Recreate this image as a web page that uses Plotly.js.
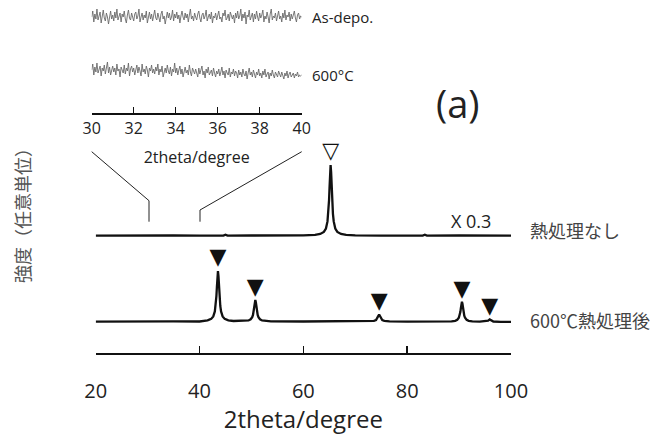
<!DOCTYPE html>
<html>
<head>
<meta charset="utf-8">
<script src="https://cdn.plot.ly/plotly-3.0.1.min.js"></script>
<style>html,body{margin:0;padding:0;background:#fff;}#chart{width:667px;height:435px;}</style>
</head>
<body>
<div id="chart"></div>
<script>
// ---- Data (arbitrary intensity units) ----
const mainTicks = [20, 40, 60, 80, 100];
const insetTicks = [30, 32, 34, 36, 38, 40];

// 熱処理なし (x 0.3)
const noHeatX = [20, 25, 30, 35, 40, 44.6, 45, 45.4, 50, 55, 60,
  62.25, 63.25, 63.95, 64.35, 64.65, 64.8, 64.95, 65.05, 65.15, 65.25,
  65.35, 65.45, 65.55, 65.7, 65.85, 66.15, 66.55, 67.25, 68.25,
  70, 75, 80, 83, 83.4, 83.8, 90, 95, 100];
const noHeatY = [117.3, 117.6, 117.2, 117.5, 117.3, 117.4, 118.3, 117.4, 117.5, 117.3, 117.6,
  118.2, 119.0, 121.1, 124.5, 131.6, 139.2, 152.8, 166.3, 181, 188,
  181, 166.3, 152.8, 139.2, 131.6, 124.5, 121.1, 119, 118.2,
  117.6, 117.4, 117.3, 117.4, 118.2, 117.4, 117.5, 117.3, 117.4];

// 600℃熱処理後
const heatX = [20, 25, 30, 35, 40, 41.55, 42.25, 42.65, 42.95, 43.1,
  43.25, 43.35, 43.45, 43.55, 43.65, 43.75, 43.85, 44.0, 44.15, 44.45,
  44.85, 45.55, 46.55, 48.75, 49.45, 49.85, 50.15, 50.3, 50.45, 50.55,
  50.65, 50.75, 50.85, 50.95, 51.05, 51.2, 51.35, 51.65, 52.05, 52.75,
  53.75, 60, 65, 70, 72.6, 73.6, 74.0, 74.3, 74.45, 74.6,
  74.75, 74.9, 75.2, 75.6, 76.6, 80, 85, 88.55, 89.25, 89.65,
  89.95, 90.1, 90.25, 90.35, 90.45, 90.55, 90.65, 90.75, 90.85, 91.0,
  91.15, 91.45, 91.85, 92.55, 94, 95.2, 95.6, 95.9, 96.2, 96.6,
  98, 100];
const heatY = [31.3, 31.6, 31.4, 31.6, 31.5, 32.6, 34.1, 36.6, 41.6, 47,
  56.8, 66.4, 77, 82, 77, 66.4, 56.8, 47, 41.6, 36.6,
  34.1, 32.6, 32, 32, 32.6, 33.7, 35.8, 38.1, 42.3, 46.4,
  50.9, 53, 50.9, 46.4, 42.3, 38.1, 35.8, 33.7, 32.6, 32,
  31.7, 31.5, 31.6, 31.4, 31.7, 32.1, 32.9, 35, 37.1, 38.5,
  37.1, 35, 32.9, 32.1, 31.7, 31.4, 31.3, 31.6, 32.2, 33.2,
  35.2, 37.4, 41.2, 45.0, 49.2, 51.2, 49.2, 45.0, 41.2, 37.4,
  35.2, 33.2, 32.2, 31.6, 31.3, 31.5, 32.3, 33.6, 32.3, 31.5,
  31.2, 31.2];

// peak markers
const openPeakX = [65.25];
const openPeakY = [201];
const filledPeakX = [43.55, 50.75, 74.6, 90.55, 95.9];
const filledPeakY = [95, 65, 51, 63, 46];

// inset scans 30–40°, step 0.05°
const insetStart = 30;
const insetStep = 0.05;
const asDepoY = [
  96, 102, 91, 99, 94, 104, 93, 98, 101, 90, 97, 103, 95, 92, 100, 96, 89, 99, 102, 94,
  98, 92, 101, 95, 104, 93, 97, 100, 91, 99, 96, 102, 94, 90, 98, 103, 95, 93, 100, 97,
  92, 99, 101, 94, 97, 104, 91, 96, 100, 93, 98, 95, 102, 90, 97, 101, 94, 99, 92, 98,
  103, 95, 93, 100, 96, 91, 99, 102, 94, 97, 89, 98, 101, 95, 100, 93, 96, 103, 92, 99,
  95, 101, 94, 98, 90, 97, 102, 96, 93, 100, 95, 99, 91, 98, 104, 94, 97, 92, 100, 96,
  93, 99, 102, 95, 91, 98, 100, 94, 97, 103, 92, 96, 99, 94, 101, 90, 97, 95, 100, 93,
  98, 102, 94, 96, 91, 100, 97, 103, 93, 95, 99, 92, 101, 96, 94, 98, 90, 100, 95, 102,
  94, 97, 104, 92, 99, 95, 101, 89, 98, 96, 103, 93, 97, 100, 91, 99, 94, 102, 96, 92,
  100, 95, 98, 103, 91, 97, 94, 101, 96, 90, 99, 104, 93, 97, 95, 100, 92, 98, 102, 94,
  97, 91, 100, 95, 103, 93, 98, 96, 101, 92, 99, 94, 97, 102, 95, 91, 98, 100, 94, 97,
  96];
const c600Y = [
  43, 49, 38, 46, 41, 50, 40, 44, 47, 37, 45, 42, 48, 39, 44, 51, 40, 46, 38, 43,
  47, 41, 45, 38, 49, 42, 44, 36, 46, 43, 40, 48, 39, 45, 42, 50, 37, 44, 47, 41,
  45, 38, 43, 48, 40, 46, 42, 37, 49, 41, 44, 39, 47, 43, 36, 45, 42, 48, 40, 44,
  39, 46, 42, 49, 38, 44, 41, 47, 36, 43, 45, 40, 48, 42, 39, 46, 37, 44, 41, 50,
  40, 45, 38, 43, 47, 39, 44, 36, 42, 46, 40, 43, 38, 48, 41, 37, 45, 42, 39, 44,
  41, 36, 45, 39, 43, 47, 38, 42, 35, 44, 40, 46, 38, 41, 43, 37, 45, 40, 36, 42,
  39, 44, 37, 41, 46, 38, 42, 35, 43, 40, 38, 45, 36, 41, 39, 44, 37, 42, 40, 35,
  43, 38, 41, 36, 44, 39, 37, 42, 34, 40, 45, 38, 41, 36, 43, 39, 35, 41, 38, 44,
  37, 40, 35, 42, 38, 44, 36, 39, 41, 34, 40, 37, 43, 38, 35, 41, 39, 36, 42, 38,
  36, 41, 38, 34, 40, 37, 42, 35, 39, 41, 36, 38, 40, 35, 39, 37, 41, 36, 38, 37,
  38];

// ---- Layout helpers (pixel -> paper) ----
const W = 667, H = 435;
const px = v => v / W;
const py = v => 1 - v / H;
const INK = '#111';
const FONT = 'Open Sans, Liberation Sans, sans-serif';
const JP = 'Noto Sans CJK JP, sans-serif';

const traces = [
  {x: noHeatX, y: noHeatY, xaxis: 'x', yaxis: 'y', mode: 'lines',
   line: {color: INK, width: 2.3}, hoverinfo: 'skip'},
  {x: heatX, y: heatY, xaxis: 'x', yaxis: 'y', mode: 'lines',
   line: {color: INK, width: 2.3}, hoverinfo: 'skip'},
  {x: openPeakX, y: openPeakY, xaxis: 'x', yaxis: 'y', mode: 'text', text: ['▽'],
   textposition: 'middle center', textfont: {family: 'DejaVu Sans', size: 22, color: INK},
   cliponaxis: false, hoverinfo: 'skip'},
  {x: filledPeakX, y: filledPeakY, xaxis: 'x', yaxis: 'y', mode: 'text',
   text: filledPeakX.map(() => '▼'),
   textposition: 'middle center', textfont: {family: 'DejaVu Sans', size: 22, color: INK},
   cliponaxis: false, hoverinfo: 'skip'},
  {x0: insetStart, dx: insetStep, y: asDepoY, xaxis: 'x2', yaxis: 'y2', mode: 'lines',
   line: {color: '#6a6a6a', width: 0.9}, hoverinfo: 'skip'},
  {x0: insetStart, dx: insetStep, y: c600Y, xaxis: 'x2', yaxis: 'y2', mode: 'lines',
   line: {color: '#6a6a6a', width: 0.9}, hoverinfo: 'skip'}
];

const layout = {
  width: W, height: H,
  margin: {l: 0, r: 0, t: 0, b: 0},
  paper_bgcolor: '#fff', plot_bgcolor: 'rgba(0,0,0,0)',
  showlegend: false,
  font: {family: FONT, color: '#222'},
  xaxis: {
    domain: [px(95.7), px(511)], range: [20, 100], autorange: false, anchor: 'y',
    tickvals: mainTicks, ticks: 'inside', ticklen: 7, tickwidth: 1.5, tickcolor: INK,
    showline: true, linewidth: 2, linecolor: INK, showgrid: false, zeroline: false,
    tickfont: {family: FONT, size: 20, color: '#222'}, ticklabelstandoff: 19,
    title: {text: '2theta/degree', font: {family: FONT, size: 24, color: '#222'}, standoff: 6},
    fixedrange: true
  },
  yaxis: {domain: [py(353), 1], range: [0, 353], autorange: false, visible: false, anchor: 'x', fixedrange: true},
  xaxis2: {
    domain: [px(91.7), px(301.7)], range: [30, 40], autorange: false, anchor: 'y2',
    tickvals: insetTicks, ticks: 'inside', ticklen: 6, tickwidth: 1, tickcolor: INK,
    showline: true, linewidth: 1.5, linecolor: INK, showgrid: false, zeroline: false,
    tickfont: {family: FONT, size: 16, color: '#222'}, ticklabelstandoff: 0,
    title: {text: '2theta/degree', font: {family: FONT, size: 16, color: '#222'}, standoff: 14},
    fixedrange: true
  },
  yaxis2: {domain: [py(113), 1], range: [0, 113], autorange: false, visible: false, anchor: 'x2', fixedrange: true},
  shapes: [
    {type: 'line', xref: 'paper', yref: 'paper', x0: px(91.7), y0: py(151.7), x1: px(149), y1: py(200.7), line: {color: '#222', width: 1}},
    {type: 'line', xref: 'paper', yref: 'paper', x0: px(149), y0: py(200.7), x1: px(149), y1: py(221.7), line: {color: '#222', width: 1}},
    {type: 'line', xref: 'paper', yref: 'paper', x0: px(301.7), y0: py(151.7), x1: px(200), y1: py(210), line: {color: '#222', width: 1}},
    {type: 'line', xref: 'paper', yref: 'paper', x0: px(200), y0: py(210), x1: px(200), y1: py(221.7), line: {color: '#222', width: 1}}
  ],
  annotations: [
    {text: 'As-depo.', xref: 'paper', yref: 'paper', x: px(310), y: py(17), xanchor: 'left', yanchor: 'middle', showarrow: false, font: {family: FONT, size: 15, color: '#222'}},
    {text: '600°C', xref: 'paper', yref: 'paper', x: px(310), y: py(75), xanchor: 'left', yanchor: 'middle', showarrow: false, font: {family: FONT, size: 15, color: '#222'}},
    {text: '(a)', xref: 'paper', yref: 'paper', x: px(458), y: py(103), xanchor: 'center', yanchor: 'middle', showarrow: false, font: {family: FONT, size: 38, color: '#222'}},
    {text: 'X 0.3', xref: 'paper', yref: 'paper', x: px(449), y: py(221), xanchor: 'left', yanchor: 'middle', showarrow: false, font: {family: FONT, size: 18, color: '#222'}},
    {text: '熱処理なし', xref: 'paper', yref: 'paper', x: px(528), y: py(230), xanchor: 'left', yanchor: 'middle', showarrow: false, font: {family: JP, size: 18, color: '#444'}},
    {text: '600℃熱処理後', xref: 'paper', yref: 'paper', x: px(528), y: py(320), xanchor: 'left', yanchor: 'middle', showarrow: false, font: {family: JP, size: 18, color: '#444'}},
    {text: '強度（任意単位）', xref: 'paper', yref: 'paper', x: px(22), y: py(211), xanchor: 'center', yanchor: 'middle', textangle: -90, showarrow: false, font: {family: JP, size: 18, color: '#555'}}
  ]
};

Plotly.newPlot('chart', traces, layout, {displayModeBar: false, staticPlot: true});
</script>
</body>
</html>
